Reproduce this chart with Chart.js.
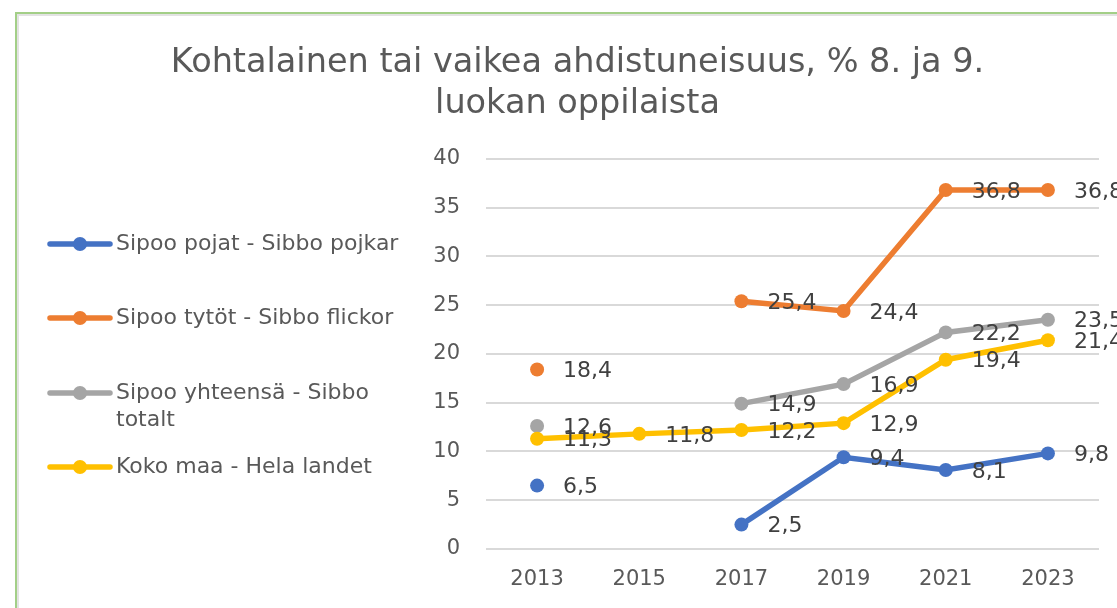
<!DOCTYPE html>
<html>
<head>
<meta charset="utf-8">
<script src="https://cdn.jsdelivr.net/npm/chart.js@4"></script>
<style>
  html, body { margin: 0; padding: 0; background: #fff; overflow: hidden; }
  #wrap { position: relative; width: 1117px; height: 608px; }
  #frame {
    position: absolute; left: 15px; top: 12px; width: 1200px; height: 700px;
    border: 2px solid #A3CF87; box-shadow: inset 2px 2px 0 #E3E3E3;
  }
  #chart { position: absolute; left: 0; top: 0; }
</style>
</head>
<body>
<div id="wrap">
  <div id="frame"></div>
  <canvas id="chart" width="1117" height="608"></canvas>
</div>
<script>
// Survey years and share (%) of 8th/9th graders with moderate or severe anxiety
const years = ['2013', '2015', '2017', '2019', '2021', '2023'];
const boys = [6.5, null, 2.5, 9.4, 8.1, 9.8];
const girls = [18.4, null, 25.4, 24.4, 36.8, 36.8];
const sipooTotal = [12.6, null, 14.9, 16.9, 22.2, 23.5];
const wholeCountry = [11.3, 11.8, 12.2, 12.9, 19.4, 21.4];

const seriesNames = [
  'Sipoo pojat - Sibbo pojkar',
  'Sipoo tytöt - Sibbo flickor',
  'Sipoo yhteensä - Sibbo totalt',
  'Koko maa - Hela landet'
];
const seriesColors = ['#4472C4', '#ED7D31', '#A5A5A5', '#FFC000'];

const FONT = 'DejaVu Sans';

function makeSeries(i, data) {
  return {
    label: seriesNames[i],
    data,
    borderColor: seriesColors[i],
    backgroundColor: seriesColors[i],
    borderWidth: 5.5,
    pointRadius: 7,
    pointBorderWidth: 0,
    pointHoverRadius: 7,
    spanGaps: false,
    order: 4 - i
  };
}

// value labels to the right of each point, decimal comma
const valueLabels = {
  id: 'valueLabels',
  afterDatasetsDraw(chart) {
    const ctx = chart.ctx;
    ctx.save();
    ctx.font = `22px "${FONT}"`;
    ctx.fillStyle = '#404040';
    ctx.textAlign = 'left';
    ctx.textBaseline = 'middle';
    chart.data.datasets.forEach((ds, i) => {
      const meta = chart.getDatasetMeta(i);
      meta.data.forEach((pt, j) => {
        const v = ds.data[j];
        if (v == null) return;
        ctx.fillText(v.toFixed(1).replace('.', ','), pt.x + 26, pt.y + 2);
      });
    });
    ctx.restore();
  }
};

// legend block on the left: line + marker, wrapped names
const sideLegend = {
  id: 'sideLegend',
  afterDraw(chart) {
    const ctx = chart.ctx;
    const rows = [
      { y: 244, lines: ['Sipoo pojat - Sibbo pojkar'] },
      { y: 318, lines: ['Sipoo tytöt - Sibbo flickor'] },
      { y: 393, lines: ['Sipoo yhteensä - Sibbo', 'totalt'] },
      { y: 467, lines: ['Koko maa - Hela landet'] }
    ];
    ctx.save();
    ctx.font = `22px "${FONT}"`;
    ctx.textAlign = 'left';
    ctx.textBaseline = 'middle';
    chart.data.datasets.forEach((ds, i) => {
      const r = rows[i];
      ctx.strokeStyle = ds.borderColor;
      ctx.lineWidth = 5.5;
      ctx.lineCap = 'round';
      ctx.beginPath();
      ctx.moveTo(50, r.y);
      ctx.lineTo(110, r.y);
      ctx.stroke();
      ctx.fillStyle = ds.backgroundColor;
      ctx.beginPath();
      ctx.arc(80, r.y, 7, 0, Math.PI * 2);
      ctx.fill();
      ctx.fillStyle = '#595959';
      r.lines.forEach((t, k) => ctx.fillText(t, 116, r.y + k * 27));
    });
    ctx.restore();
  }
};

new Chart(document.getElementById('chart').getContext('2d'), {
  type: 'line',
  data: {
    labels: years,
    datasets: [
      makeSeries(0, boys),
      makeSeries(1, girls),
      makeSeries(2, sipooTotal),
      makeSeries(3, wholeCountry)
    ]
  },
  options: {
    responsive: false,
    animation: false,
    layout: { padding: { left: 56, right: 18, top: 0, bottom: 0 } },
    plugins: {
      legend: { display: false },
      tooltip: { enabled: false },
      title: {
        display: true,
        text: ['Kohtalainen tai vaikea ahdistuneisuus, % 8. ja 9.', 'luokan oppilaista'],
        color: '#595959',
        font: { family: FONT, size: 33.5, weight: 'normal', lineHeight: 1.22 },
        padding: { top: 43, bottom: 34 }
      }
    },
    scales: {
      x: {
        offset: true,
        afterFit(scale) { scale.height = 59; },
        grid: { display: false, drawTicks: false },
        border: { display: false },
        ticks: { color: '#595959', font: { family: FONT, size: 21 }, padding: 18 }
      },
      y: {
        min: 0,
        max: 40,
        afterFit(scale) { scale.width = 430; },
        grid: { color: '#D9D9D9', lineWidth: 2, drawTicks: false },
        border: { display: false },
        ticks: { stepSize: 5, color: '#595959', font: { family: FONT, size: 21 }, padding: 26 }
      }
    }
  },
  plugins: [valueLabels, sideLegend]
});
</script>
</body>
</html>
